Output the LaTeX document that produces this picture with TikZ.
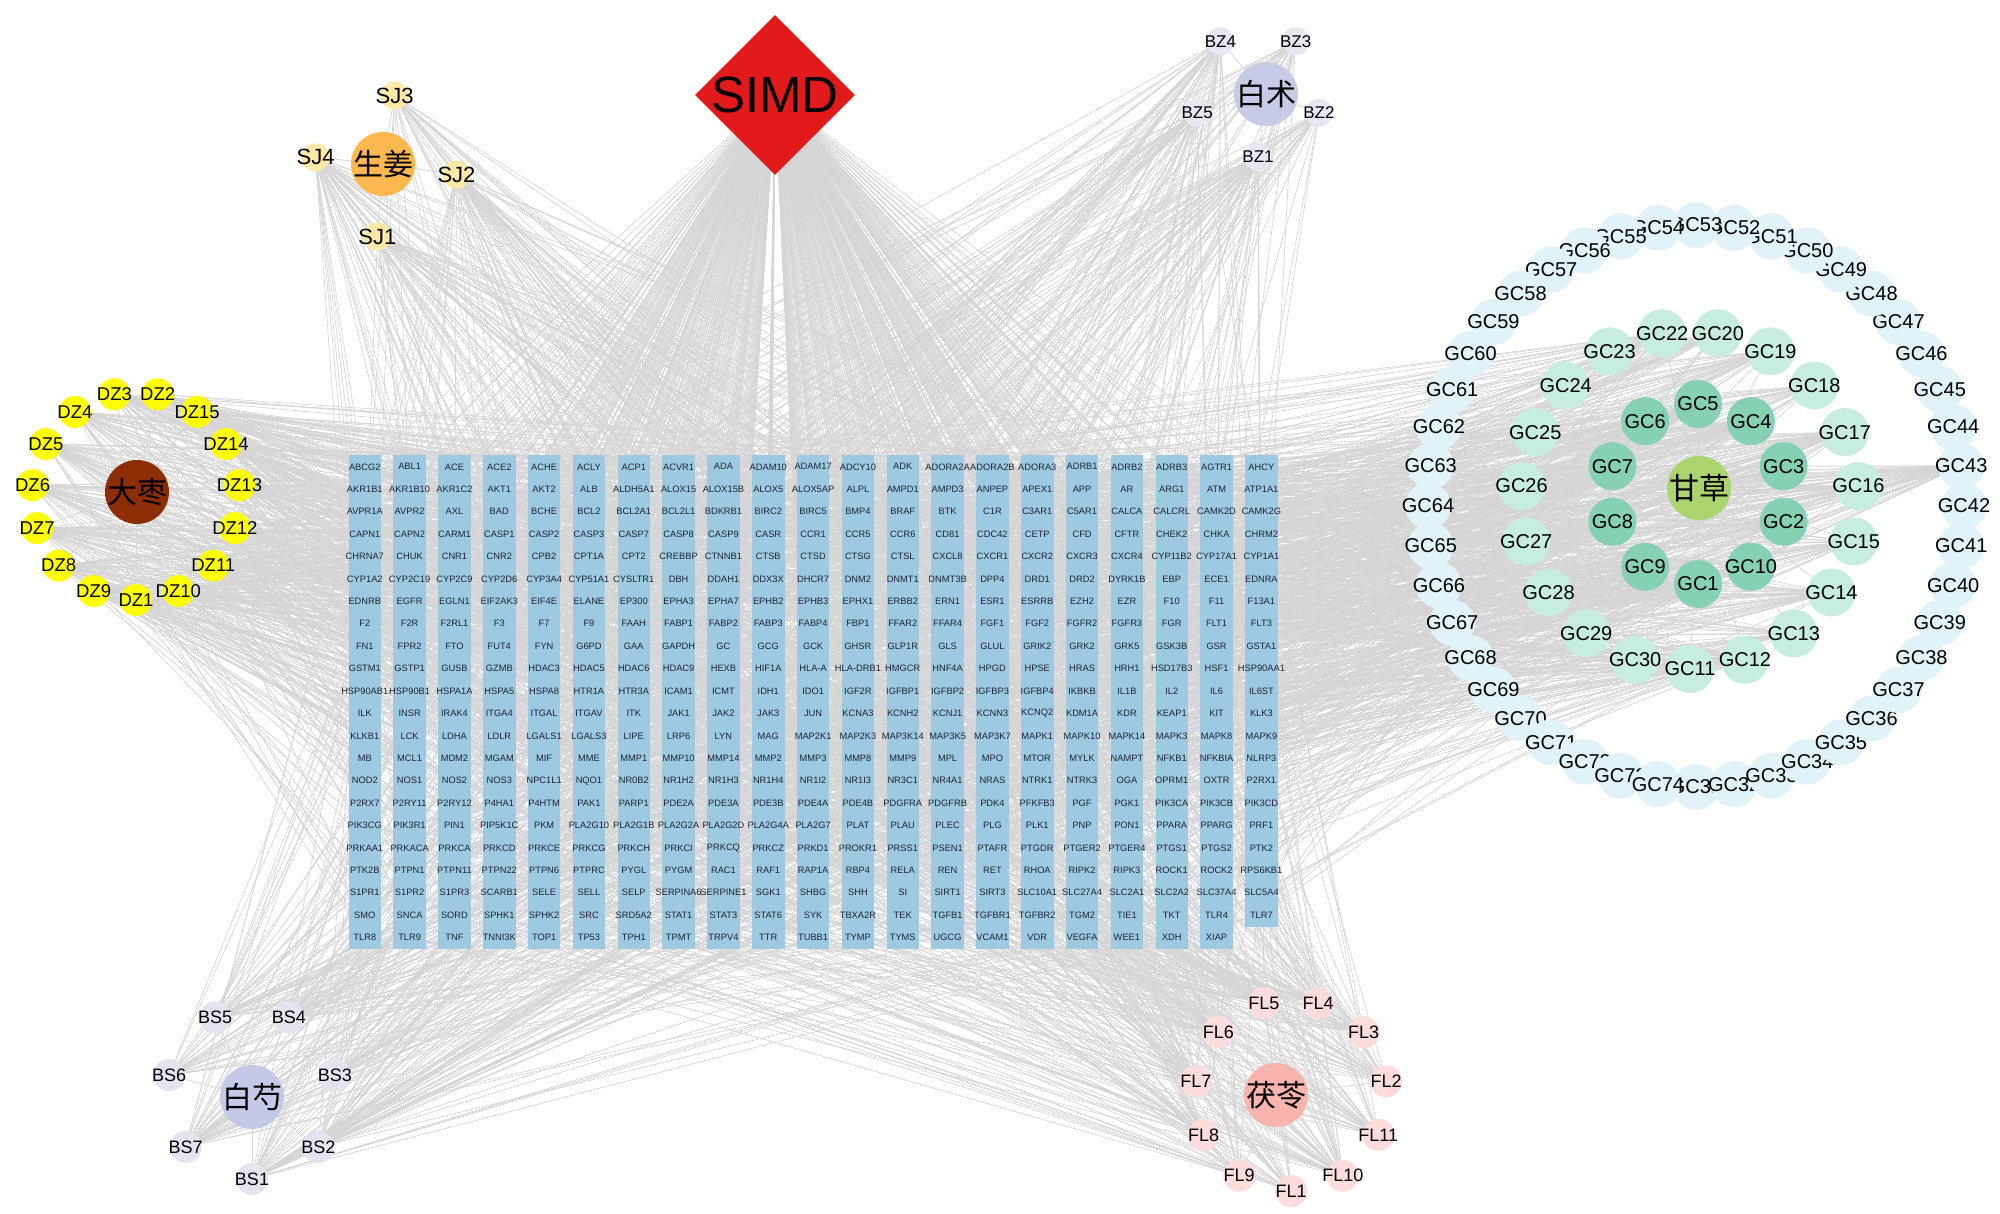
\documentclass[tikz,border=0pt]{standalone}
\usepackage{fontspec}
\setmainfont{Liberation Sans}
\newfontfamily\cjkf{Noto Sans CJK SC}
\usetikzlibrary{shapes.geometric}
\pgfdeclarelayer{back}
\pgfdeclarelayer{edges}
\pgfsetlayers{back,edges,main}
\definecolor{genec}{HTML}{9ECAE1}
\definecolor{genetext}{HTML}{1E2333}
\definecolor{edgec}{HTML}{D5D5D5}
\definecolor{simdc}{HTML}{E31A1C}
\definecolor{sjherb}{HTML}{FDB94F}
\definecolor{sjc}{HTML}{FFE9A6}
\definecolor{bzherb}{HTML}{C8CBE6}
\definecolor{bzc}{HTML}{E8E6F2}
\definecolor{gcherb}{HTML}{A9D46E}
\definecolor{gcin}{HTML}{86D0B4}
\definecolor{gcmid}{HTML}{C7EDDF}
\definecolor{gcout}{HTML}{E0F3F8}
\definecolor{dzherb}{HTML}{8C2D04}
\definecolor{dzc}{HTML}{FFFF00}
\definecolor{flherb}{HTML}{FAB4AE}
\definecolor{flc}{HTML}{FCDCDC}
\definecolor{bsherb}{HTML}{C5C9E8}
\definecolor{bsc}{HTML}{E6E2F0}
\tikzset{
  edge/.style={draw=edgec, line width=0.65pt},
  herb/.style={circle, inner sep=0pt, minimum size=64, draw=none},
  sm/.style={circle, inner sep=0pt, minimum size=#1, draw=none},
  gene/.style={rectangle, inner sep=0pt, minimum width=32.5, minimum height=22.8, fill=genec, draw=none},
  genelab/.style={inner sep=0pt, text=genetext, font=\fontsize{9.3}{10}\selectfont},
  cjklab/.style={inner sep=0pt, text=black, font=\cjkf\fontsize{30}{32}\selectfont},
  lab/.style={inner sep=0pt, text=black, font=\fontsize{#1}{#1}\selectfont},
}
\def\genelist{ABCG2,ABL1,ACE,ACE2,ACHE,ACLY,ACP1,ACVR1,ADA,ADAM10,ADAM17,ADCY10,ADK,ADORA2A,ADORA2B,ADORA3,ADRB1,ADRB2,ADRB3,AGTR1,AHCY,%
AKR1B1,AKR1B10,AKR1C2,AKT1,AKT2,ALB,ALDH5A1,ALOX15,ALOX15B,ALOX5,ALOX5AP,ALPL,AMPD1,AMPD3,ANPEP,APEX1,APP,AR,ARG1,ATM,ATP1A1,%
AVPR1A,AVPR2,AXL,BAD,BCHE,BCL2,BCL2A1,BCL2L1,BDKRB1,BIRC2,BIRC5,BMP4,BRAF,BTK,C1R,C3AR1,C5AR1,CALCA,CALCRL,CAMK2D,CAMK2G,%
CAPN1,CAPN2,CARM1,CASP1,CASP2,CASP3,CASP7,CASP8,CASP9,CASR,CCR1,CCR5,CCR6,CD81,CDC42,CETP,CFD,CFTR,CHEK2,CHKA,CHRM2,%
CHRNA7,CHUK,CNR1,CNR2,CPB2,CPT1A,CPT2,CREBBP,CTNNB1,CTSB,CTSD,CTSG,CTSL,CXCL8,CXCR1,CXCR2,CXCR3,CXCR4,CYP11B2,CYP17A1,CYP1A1,%
CYP1A2,CYP2C19,CYP2C9,CYP2D6,CYP3A4,CYP51A1,CYSLTR1,DBH,DDAH1,DDX3X,DHCR7,DNM2,DNMT1,DNMT3B,DPP4,DRD1,DRD2,DYRK1B,EBP,ECE1,EDNRA,%
EDNRB,EGFR,EGLN1,EIF2AK3,EIF4E,ELANE,EP300,EPHA3,EPHA7,EPHB2,EPHB3,EPHX1,ERBB2,ERN1,ESR1,ESRRB,EZH2,EZR,F10,F11,F13A1,%
F2,F2R,F2RL1,F3,F7,F9,FAAH,FABP1,FABP2,FABP3,FABP4,FBP1,FFAR2,FFAR4,FGF1,FGF2,FGFR2,FGFR3,FGR,FLT1,FLT3,%
FN1,FPR2,FTO,FUT4,FYN,G6PD,GAA,GAPDH,GC,GCG,GCK,GHSR,GLP1R,GLS,GLUL,GRIK2,GRK2,GRK5,GSK3B,GSR,GSTA1,%
GSTM1,GSTP1,GUSB,GZMB,HDAC3,HDAC5,HDAC6,HDAC9,HEXB,HIF1A,HLA-A,HLA-DRB1,HMGCR,HNF4A,HPGD,HPSE,HRAS,HRH1,HSD17B3,HSF1,HSP90AA1,%
HSP90AB1,HSP90B1,HSPA1A,HSPA5,HSPA8,HTR1A,HTR3A,ICAM1,ICMT,IDH1,IDO1,IGF2R,IGFBP1,IGFBP2,IGFBP3,IGFBP4,IKBKB,IL1B,IL2,IL6,IL6ST,%
ILK,INSR,IRAK4,ITGA4,ITGAL,ITGAV,ITK,JAK1,JAK2,JAK3,JUN,KCNA3,KCNH2,KCNJ1,KCNN3,KCNQ2,KDM1A,KDR,KEAP1,KIT,KLK3,%
KLKB1,LCK,LDHA,LDLR,LGALS1,LGALS3,LIPE,LRP6,LYN,MAG,MAP2K1,MAP2K3,MAP3K14,MAP3K5,MAP3K7,MAPK1,MAPK10,MAPK14,MAPK3,MAPK8,MAPK9,%
MB,MCL1,MDM2,MGAM,MIF,MME,MMP1,MMP10,MMP14,MMP2,MMP3,MMP8,MMP9,MPL,MPO,MTOR,MYLK,NAMPT,NFKB1,NFKBIA,NLRP3,%
NOD2,NOS1,NOS2,NOS3,NPC1L1,NQO1,NR0B2,NR1H2,NR1H3,NR1H4,NR1I2,NR1I3,NR3C1,NR4A1,NRAS,NTRK1,NTRK3,OGA,OPRM1,OXTR,P2RX1,%
P2RX7,P2RY11,P2RY12,P4HA1,P4HTM,PAK1,PARP1,PDE2A,PDE3A,PDE3B,PDE4A,PDE4B,PDGFRA,PDGFRB,PDK4,PFKFB3,PGF,PGK1,PIK3CA,PIK3CB,PIK3CD,%
PIK3CG,PIK3R1,PIN1,PIP5K1C,PKM,PLA2G10,PLA2G1B,PLA2G2A,PLA2G2D,PLA2G4A,PLA2G7,PLAT,PLAU,PLEC,PLG,PLK1,PNP,PON1,PPARA,PPARG,PRF1,%
PRKAA1,PRKACA,PRKCA,PRKCD,PRKCE,PRKCG,PRKCH,PRKCI,PRKCQ,PRKCZ,PRKD1,PROKR1,PRSS1,PSEN1,PTAFR,PTGDR,PTGER2,PTGER4,PTGS1,PTGS2,PTK2,%
PTK2B,PTPN1,PTPN11,PTPN22,PTPN6,PTPRC,PYGL,PYGM,RAC1,RAF1,RAP1A,RBP4,RELA,REN,RET,RHOA,RIPK2,RIPK3,ROCK1,ROCK2,RPS6KB1,%
S1PR1,S1PR2,S1PR3,SCARB1,SELE,SELL,SELP,SERPINA6,SERPINE1,SGK1,SHBG,SHH,SI,SIRT1,SIRT3,SLC10A1,SLC27A4,SLC2A1,SLC2A2,SLC37A4,SLC5A4,%
SMO,SNCA,SORD,SPHK1,SPHK2,SRC,SRD5A2,STAT1,STAT3,STAT6,SYK,TBXA2R,TEK,TGFB1,TGFBR1,TGFBR2,TGM2,TIE1,TKT,TLR4,TLR7,%
TLR8,TLR9,TNF,TNNI3K,TOP1,TP53,TPH1,TPMT,TRPV4,TTR,TUBB1,TYMP,TYMS,UGCG,VCAM1,VDR,VEGFA,WEE1,XDH,XIAP}
\begin{document}
\begin{tikzpicture}[x=1pt,y=-1pt]
\begin{pgfonlayer}{back}
\fill[white] (0,0) rectangle (2000,1214);
\end{pgfonlayer}
\useasboundingbox (0,0) rectangle (2000,1214);

% ---- gene grid ----
\foreach \gn [count=\i from 0] in \genelist {
  \pgfmathtruncatemacro{\col}{mod(\i,21)}
  \pgfmathtruncatemacro{\row}{(\i-\col)/21}
  \node[gene] (g\i) at ({364.8+44.83*\col},{466.8+22.42*\row}) {};
}
\foreach \gn [count=\i from 0] in \genelist {
  \node[genelab] (gt\i) at (g\i.center) {\gn};
}

% ---- SIMD ----
\node[diamond, fill=simdc, draw=none, minimum width=160, minimum height=160, inner sep=0pt,
      label={[lab=51]center:SIMD}] (SIMD) at (775,95) {};

% ---- herbs ----
\node[herb, fill=sjherb, label={[cjklab]center:生姜}] (hSJ) at (383,164) {};
\node[herb, fill=bzherb, label={[cjklab]center:白术}] (hBZ) at (1266,94) {};
\node[herb, fill=dzherb, label={[cjklab]center:大枣}] (hDZ) at (137,492) {};
\node[herb, fill=bsherb, label={[cjklab]center:白芍}] (hBS) at (252,1097) {};
\node[herb, fill=flherb, label={[cjklab]center:茯苓}] (hFL) at (1276,1095) {};

% ---- SJ ----
\foreach \n [count=\k from 0] in {1,2,3,4} {
  \node[sm=28, fill=sjc, label={[lab=22]center:SJ\n}] (SJ\n) at ({386+71*cos(-97+90*\k)},{166-71*sin(-97+90*\k)}) {};
}
% ---- BZ ----
\foreach \n [count=\k from 0] in {1,2,3,4,5} {
  \node[sm=28, fill=bzc, label={[lab=17]center:BZ\n}] (BZ\n) at ({1258+64*cos(-90+72*\k)},{93-64*sin(-90+72*\k)}) {};
}
% ---- DZ ----
\foreach \n [count=\k from 0] in {1,10,11,12,13,14,15,2,3,4,5,6,7,8,9} {
  \node[sm=32, fill=dzc, label={[lab=18.5]center:DZ\n}] (DZ\n) at ({136+104*cos(-90+24*\k)},{496-104*sin(-90+24*\k)}) {};
}
% ---- BS ----
\foreach \n [count=\k from 0] in {1,2,3,4,5,6,7} {
  \node[sm=32, fill=bsc, label={[lab=18]center:BS\n}] (BS\n) at ({252+85*cos(-90+360/7*\k)},{1094-85*sin(-90+360/7*\k)}) {};
}
% ---- FL ----
\foreach \n [count=\k from 0] in {1,10,11,2,3,4,5,6,7,8,9} {
  \node[sm=32, fill=flc, label={[lab=18]center:FL\n}] (FL\n) at ({1291+96*cos(-90+360/11*\k)},{1095-96*sin(-90+360/11*\k)}) {};
}
% ---- GC rings ----
\foreach \n [count=\k from 0] in {31,...,74} {
  \node[sm=46, fill=gcout, label={[lab=20]center:GC\n}] (GC\n) at ({1696+268*cos(-90+360/44*\k)},{506-281*sin(-90+360/44*\k)}) {};
}
\foreach \n [count=\k from 0] in {11,12,13,14,15,16,17,18,19,20,22,23,24,25,26,27,28,29,30} {
  \node[sm=48, fill=gcmid, label={[lab=20]center:GC\n}] (GC\n) at ({1690+169*cos(-90+360/19*\k)},{500-169*sin(-90+360/19*\k)}) {};
}
\foreach \n [count=\k from 0] in {1,10,2,3,4,5,6,7,8,9} {
  \node[sm=48, fill=gcin, label={[lab=20]center:GC\n}] (GC\n) at ({1698+90*cos(-90+36*\k)},{494-90*sin(-90+36*\k)}) {};
}
\node[herb, fill=gcherb, label={[cjklab]center:甘草}] (hGC) at (1699,488) {};

% ---- edges ----
\begin{pgfonlayer}{edges}
\foreach \i in {0,...,460} { \draw[edge] (SIMD.center) -- (g\i.center); }
\foreach \n in {1,...,4} { \draw[edge] (hSJ.center) -- (SJ\n.center); }
\foreach \n in {1,...,5} { \draw[edge] (hBZ.center) -- (BZ\n.center); }
\foreach \n in {1,...,15} { \draw[edge] (hDZ.center) -- (DZ\n.center); }
\foreach \n in {1,...,7} { \draw[edge] (hBS.center) -- (BS\n.center); }
\foreach \n in {1,...,11} { \draw[edge] (hFL.center) -- (FL\n.center); }
\foreach \n in {1,...,20,22,...,74} { \draw[edge] (hGC.center) -- (GC\n.center); }
\pgfmathsetseed{2024}
\foreach \p/\m in {SJ/4,BZ/5,DZ/15,BS/7,FL/11} {
  \foreach \n in {1,...,\m} {
    \pgfmathrandominteger{\cnt}{25}{55}
    \foreach \j in {1,...,\cnt} {
      \pgfmathrandominteger{\t}{0}{460}
      \draw[edge] (\p\n.center) -- (g\t.center);
    }
  }
}
\foreach \n in {1,...,20,22,...,74} {
  \pgfmathrandominteger{\cnt}{25}{60}
  \foreach \j in {1,...,\cnt} {
    \pgfmathrandominteger{\t}{0}{460}
    \draw[edge] (GC\n.center) -- (g\t.center);
  }
}
\end{pgfonlayer}
\end{tikzpicture}
\end{document}
